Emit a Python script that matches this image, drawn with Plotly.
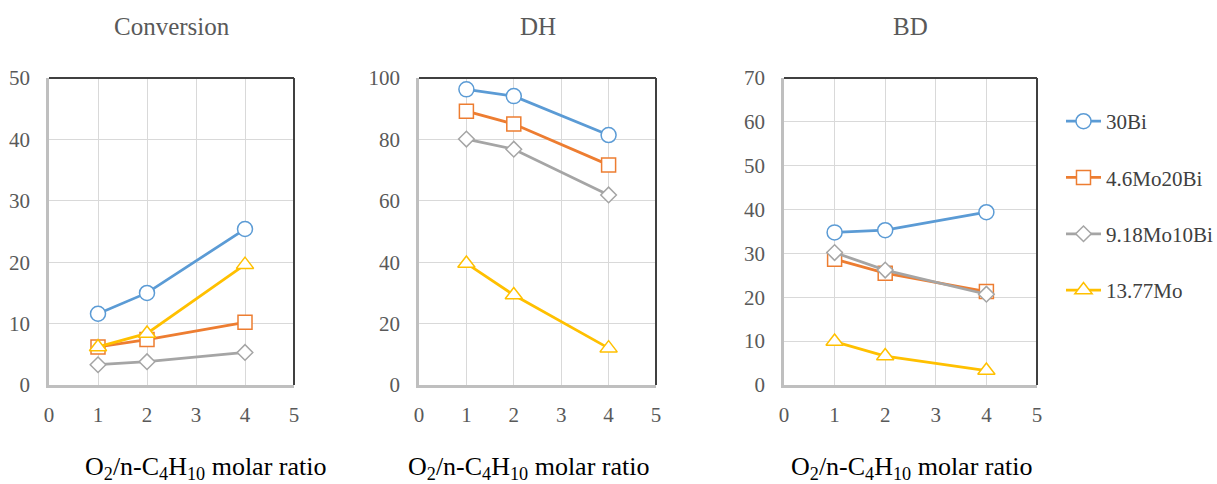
import plotly.graph_objects as go

ratios = [1, 2, 4]
series_names = ["30Bi", "4.6Mo20Bi", "9.18Mo10Bi", "13.77Mo"]
conversion = {
    "30Bi": [11.6, 15.0, 25.4],
    "4.6Mo20Bi": [6.2, 7.4, 10.2],
    "9.18Mo10Bi": [3.3, 3.8, 5.3],
    "13.77Mo": [6.2, 8.4, 19.6],
}
dh = {
    "30Bi": [96.3, 94.1, 81.4],
    "4.6Mo20Bi": [89.2, 85.0, 71.7],
    "9.18Mo10Bi": [80.1, 76.8, 61.9],
    "13.77Mo": [39.6, 29.3, 12.0],
}
bd = {
    "30Bi": [34.8, 35.3, 39.4],
    "4.6Mo20Bi": [28.7, 25.5, 21.3],
    "9.18Mo10Bi": [30.2, 26.2, 20.7],
    "13.77Mo": [9.9, 6.6, 3.3],
}
panel_titles = ["Conversion", "DH", "BD"]
y_max = [50, 100, 70]
y_dtick = [10, 20, 10]
x_ticks = [0, 1, 2, 3, 4, 5]
x_title = "O<sub>2</sub>/n-C<sub>4</sub>H<sub>10</sub> molar ratio"

colors = {"30Bi": "#5B9BD5", "4.6Mo20Bi": "#ED7D31", "9.18Mo10Bi": "#A5A5A5", "13.77Mo": "#FFC000"}
symbols = {"30Bi": "circle", "4.6Mo20Bi": "square", "9.18Mo10Bi": "diamond", "13.77Mo": "triangle-up"}
msize = {"30Bi": 15, "4.6Mo20Bi": 14, "9.18Mo10Bi": 12, "13.77Mo": 15}

SERIF = "Liberation Serif"

W, H = 1217, 484
x_doms = [(49, 294), (419, 656), (784, 1037)]
xtitle_cx = [205, 528, 911]
y_top, y_bot = 78, 385
ydom = [1 - y_bot / H, 1 - y_top / H]

fig = go.Figure()
datasets = [conversion, dh, bd]
for p, data in enumerate(datasets):
    xa = "x" if p == 0 else f"x{p+1}"
    ya = "y" if p == 0 else f"y{p+1}"
    for name in series_names:
        fig.add_trace(go.Scatter(
            x=ratios, y=data[name], name=name, mode="lines+markers",
            xaxis=xa, yaxis=ya, legendgroup=name, showlegend=(p == 0),
            line=dict(color=colors[name], width=2.75),
            marker=dict(symbol=symbols[name], size=msize[name], color="white",
                        line=dict(color=colors[name], width=1.5)),
            cliponaxis=False,
        ))

layout = dict(
    width=W, height=H, margin=dict(l=0, r=0, t=0, b=0, autoexpand=False),
    paper_bgcolor="white", plot_bgcolor="white",
    font=dict(family=SERIF, color="#595959", size=21),
    showlegend=True,
    legend=dict(x=1061 / W, y=1 - 101 / H, xanchor="left", yanchor="top",
                font=dict(size=21, color="#404040", family=SERIF),
                tracegroupgap=26, itemwidth=35, bgcolor="rgba(0,0,0,0)"),
)
annotations = []
shapes = []
for p in range(3):
    sfx = "" if p == 0 else str(p + 1)
    x0, x1 = x_doms[p]
    layout["xaxis" + sfx] = dict(
        domain=[x0 / W, x1 / W], range=[0, 5], tickvals=x_ticks,
        showgrid=True, gridcolor="#D9D9D9", gridwidth=1,
        showline=True, linecolor="#BFBFBF", linewidth=2.5,
        zeroline=False, ticks="outside", ticklen=9, tickcolor="rgba(0,0,0,0)",
        tickfont=dict(size=21, color="#595959", family=SERIF),
        anchor="y" + sfx, fixedrange=True,
    )
    layout["yaxis" + sfx] = dict(
        domain=ydom, range=[0, y_max[p]], dtick=y_dtick[p], tick0=0,
        showgrid=True, gridcolor="#D9D9D9", gridwidth=1,
        showline=True, linecolor="#BFBFBF", linewidth=2.5,
        zeroline=False, ticks="outside", ticklen=12, tickcolor="rgba(0,0,0,0)",
        tickfont=dict(size=21, color="#595959", family=SERIF),
        anchor="x" + sfx, fixedrange=True,
    )
    shapes.append(dict(type="line", xref=f"x{sfx} domain", yref=f"y{sfx} domain",
                       x0=0, x1=1, y0=1, y1=1, line=dict(color="#404040", width=2)))
    shapes.append(dict(type="line", xref=f"x{sfx} domain", yref=f"y{sfx} domain",
                       x0=1, x1=1, y0=0, y1=1, line=dict(color="#404040", width=2)))
    cx = (x0 + x1) / 2 / W
    annotations.append(dict(text=panel_titles[p], x=cx, y=1 - 27 / H, xref="paper", yref="paper",
                            showarrow=False, font=dict(size=25, color="#595959", family=SERIF),
                            xanchor="center", yanchor="middle"))
    annotations.append(dict(text=x_title,
                            x=xtitle_cx[p] / W, y=1 - 468 / H, xref="paper", yref="paper",
                            showarrow=False, font=dict(size=26, color="#000000", family=SERIF),
                            xanchor="center", yanchor="middle"))
layout["annotations"] = annotations
layout["shapes"] = shapes
fig.update_layout(**layout)
fig.write_html("out.html")
